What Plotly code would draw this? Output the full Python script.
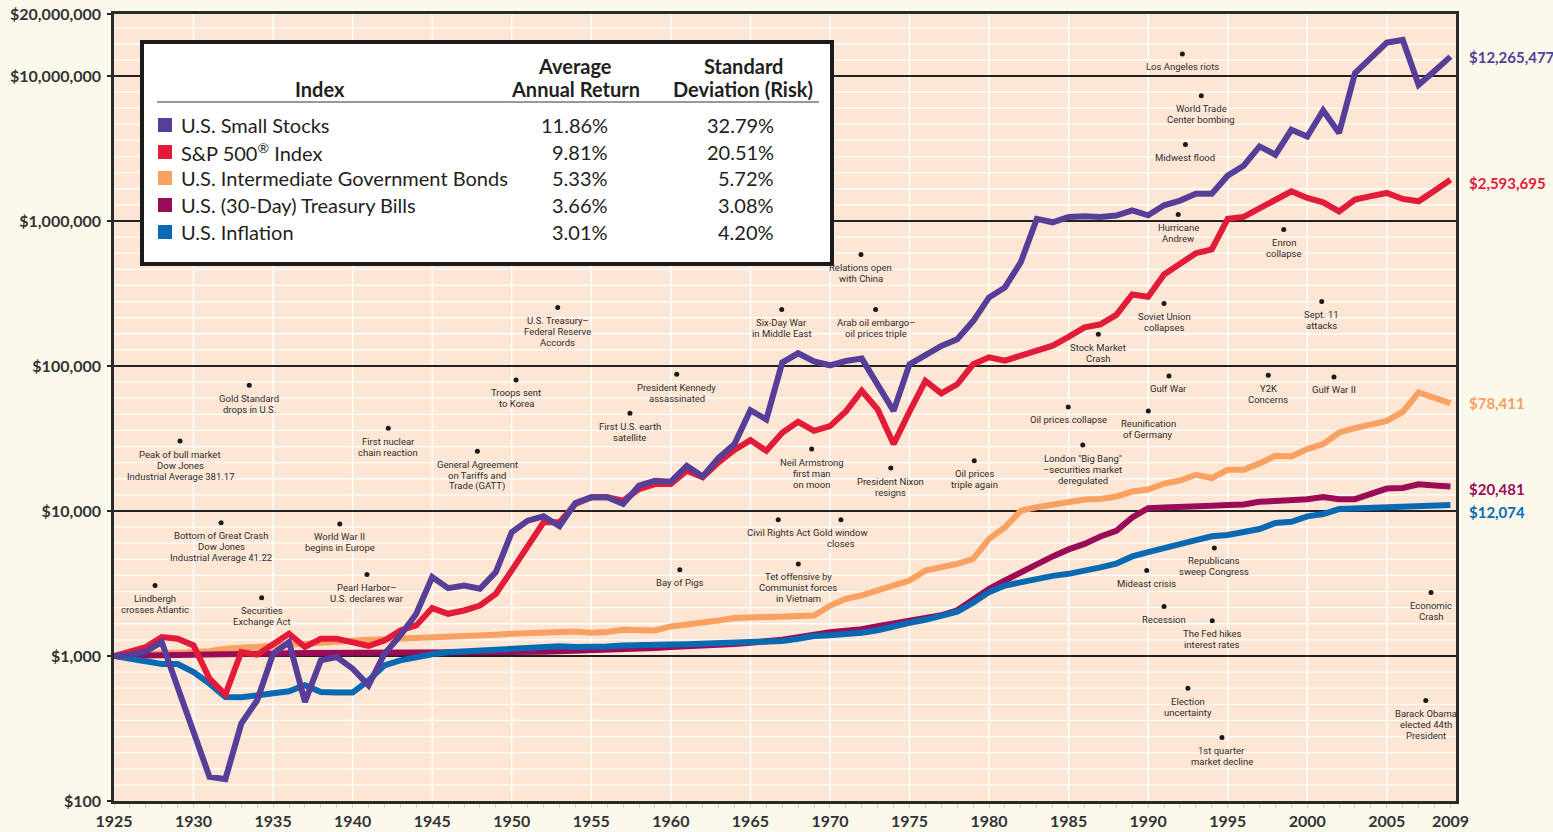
import numpy as np
import plotly.graph_objects as go

# ---------------- data ----------------
years = list(range(1925, 2010))

small_stocks = [
    1000, 1021, 1076, 1248, 608, 297, 147, 141.5, 342, 495,
    1037, 1248, 482.5, 933, 984, 818, 628, 1037, 1386, 1955,
    3498, 2938, 3062, 2906, 3786, 7136, 8574, 9194, 7847, 11352,
    12427, 12427, 11173, 14936, 16163, 15912, 20500, 17280, 23230, 28920,
    49560, 42770, 105540, 122330, 107400, 101110, 108250, 112440, 73310, 49010,
    102730, 120400, 137300, 152700, 204000, 297000, 348000, 521400, 1033900, 979500,
    1067000, 1077200, 1067000, 1089400, 1184700, 1094500, 1282600, 1381600, 1543800, 1543800,
    2053000, 2406000, 3267000, 2864000, 4256000, 3828000, 5779000, 4040000, 10454000, 13324000,
    16981000, 17720000, 8686000, 10841000, 13600000,
]

sp500 = [
    1000, 1065, 1153, 1351, 1315, 1183, 698, 541.6, 1065, 1021,
    1215, 1424, 1153, 1315, 1315, 1234, 1172, 1280, 1501, 1624,
    2140, 1955, 2060, 2229, 2685, 3895, 5770, 8360, 8360, 11173,
    12427, 12427, 11774, 14172, 15343, 15343, 18943, 17060, 21640, 26380,
    30810, 26000, 34580, 41170, 35690, 38460, 48630, 67500, 50130, 28920,
    48400, 78850, 64690, 74820, 102730, 114780, 108940, 118850, 128700, 138170,
    158870, 184600, 193640, 225100, 311500, 300300, 427700, 501200, 599500, 635800,
    1033900, 1067000, 1230800, 1404000, 1601000, 1442000, 1345000, 1166000, 1404000, 1484000,
    1561000, 1419000, 1367000, 1619000, 1927000,
]

gov_bonds = [
    1000, 1021, 1037, 1045, 1054, 1071, 1079, 1123, 1141, 1168,
    1196, 1215, 1225, 1254, 1274, 1284, 1295, 1305, 1315, 1336,
    1347, 1358, 1373, 1386, 1402, 1424, 1431, 1447, 1463, 1477,
    1447, 1463, 1517, 1510, 1501, 1599, 1643, 1714, 1758, 1826,
    1835, 1855, 1855, 1903, 1903, 2219, 2480, 2621, 2838, 3062,
    3314, 3882, 4099, 4318, 4674, 6417, 7723, 10048, 10605, 10998,
    11532, 12000, 12095, 12585, 13623, 14060, 15462, 16213, 17775, 16869,
    19245, 19245, 21298, 24028, 23800, 26720, 28920, 34800, 37265, 39700,
    41830, 48250, 65600, 60230, 55380,
]

t_bills = [
    1000, 1005, 1013, 1021, 1029, 1037, 1040, 1044, 1045, 1045,
    1045, 1045, 1047, 1047, 1047, 1047, 1047, 1049, 1049, 1050,
    1054, 1054, 1055, 1057, 1060, 1064, 1067, 1070, 1077, 1083,
    1091, 1101, 1112, 1119, 1135, 1153, 1162, 1174, 1191, 1209,
    1235, 1260, 1295, 1347, 1412, 1458, 1493, 1529, 1604, 1681,
    1749, 1819, 1909, 2065, 2441, 2906, 3315, 3785, 4250, 4862,
    5433, 5926, 6674, 7301, 9020, 10472, 10589, 10758, 10758, 10861,
    10980, 11103, 11566, 11691, 11745, 12063, 12503, 12063, 12063, 13140,
    14282, 14421, 15295, 15009, 14756,
]

inflation = [
    1000, 958, 909, 881, 881, 776, 645, 522, 519, 536,
    559, 571, 628, 565, 559, 559, 679, 862, 933, 984,
    1029, 1062, 1076, 1084, 1105, 1131, 1140, 1150, 1168, 1155,
    1155, 1162, 1183, 1196, 1196, 1200, 1206, 1215, 1221, 1229,
    1245, 1260, 1270, 1315, 1373, 1390, 1402, 1447, 1505, 1604,
    1694, 1777, 1879, 2018, 2328, 2757, 3062, 3230, 3351, 3570,
    3686, 3848, 4087, 4337, 4862, 5199, 5477, 5901, 6297, 6696,
    6836, 7247, 7514, 8259, 8429, 9189, 9531, 10310, 10423, 10423,
    10423, 10589, 10758, 10877, 10980,
]

series_names = [
    "U.S. Small Stocks",
    "S&P 500<sup>®</sup> Index",
    "U.S. Intermediate Government Bonds",
    "U.S. (30-Day) Treasury Bills",
    "U.S. Inflation",
]
avg_returns = ["11.86%", "9.81%", "5.33%", "3.66%", "3.01%"]
std_devs = ["32.79%", "20.51%", "5.72%", "3.08%", "4.20%"]
end_labels = ["$12,265,477", "$2,593,695", "$78,411", "$20,481", "$12,074"]
colors = ["#573E98", "#E31A38", "#F8A160", "#9B0C58", "#0A69B3"]

y_tick_values = [100, 1000, 10000, 100000, 1000000, 10000000, 10 ** 7.427]
y_tick_labels = ["$100", "$1,000", "$10,000", "$100,000", "$1,000,000",
                 "$10,000,000", "$20,000,000"]
x_tick_values = [1925, 1930, 1935, 1940, 1945, 1950, 1955, 1960, 1965, 1970,
                 1975, 1980, 1985, 1990, 1995, 2000, 2005, 2009]
x_tick_labels = [str(v) for v in x_tick_values]

# events: (label, year position, dollar level of the dot)
events = [
    ("Lindbergh\ncrosses Atlantic", 1927.58, 3062),
    ("Peak of bull market\nDow Jones\nIndustrial Average 381.17", 1929.15, 30330),
    ("Bottom of Great Crash\nDow Jones\nIndustrial Average 41.22", 1931.73, 8310),
    ("Gold Standard\ndrops in U.S.", 1933.50, 73680),
    ("Securities\nExchange Act", 1934.28, 2519),
    ("World War II\nbegins in Europe", 1939.19, 8138),
    ("Pearl Harbor–\nU.S. declares war", 1940.90, 3644),
    ("First nuclear\nchain reaction", 1942.24, 37250),
    ("General Agreement\non Tariffs and\nTrade (GATT)", 1947.84, 25870),
    ("Troops sent\nto Korea", 1950.27, 80100),
    ("U.S. Treasury–\nFederal Reserve\nAccords", 1952.89, 253500),
    ("First U.S. earth\nsatellite", 1957.43, 47250),
    ("President Kennedy\nassassinated", 1960.37, 87680),
    ("Bay of Pigs", 1960.56, 3926),
    ("Six-Day War\nin Middle East", 1966.97, 245600),
    ("Civil Rights Act", 1966.75, 8711),
    ("Neil Armstrong\nfirst man\non moon", 1968.85, 26710),
    ("Tet offensive by\nCommunist forces\nin Vietnam", 1968.01, 4317),
    ("Gold window\ncloses", 1970.69, 8711),
    ("Relations open\nwith China", 1971.95, 587200),
    ("Arab oil embargo–\noil prices triple", 1972.87, 245600),
    ("President Nixon\nresigns", 1973.82, 19770),
    ("Oil prices\ntriple again", 1979.07, 22200),
    ("Stock Market\nCrash", 1986.87, 165300),
    ("Oil prices collapse", 1984.98, 52210),
    ("London \"Big Bang\"\n–securities market\nderegulated", 1985.89, 28460),
    ("Hurricane\nAndrew", 1991.89, 1107000),
    ("Soviet Union\ncollapses", 1991.00, 270100),
    ("Gulf War", 1991.31, 85350),
    ("Reunification\nof Germany", 1990.01, 49010),
    ("Mideast crisis", 1989.91, 3883),
    ("Republicans\nsweep Congress", 1994.16, 5565),
    ("Recession", 1991.00, 2194),
    ("The Fed hikes\ninterest rates", 1994.03, 1750),
    ("Election\nuncertainty", 1992.50, 598.4),
    ("1st quarter\nmarket decline", 1994.64, 274),
    ("Economic\nCrash", 2007.78, 2739),
    ("Barack Obama\nelected 44th\nPresident", 2007.45, 492.6),
    ("Los Angeles riots", 1992.15, 14200000),
    ("World Trade\nCenter bombing", 1993.34, 7295000),
    ("Midwest flood", 1992.34, 3372000),
    ("Enron\ncollapse", 1998.52, 872700),
    ("Sept. 11\nattacks", 2000.91, 278800),
    ("Y2K\nConcerns", 1997.55, 86300),
    ("Gulf War II", 2001.68, 84010),
]

# ---------------- layout geometry ----------------
W, H = 1553, 832
L, R, T, B = 114, 97, 14, 31
PW, PH = W - L - R, H - T - B
X_RANGE = [1925, 1925 + PW / 15.91]
Y_RANGE = [2, 7.4274]


def px(x):
    return (x - L) / PW


def py(y):
    return (H - B - y) / PH


AXIS_FONT = dict(family="Lato, 'Open Sans', sans-serif", size=16, color="#333333", weight="bold")
EVENT_FONT = dict(family="Roboto, 'Liberation Sans', sans-serif", size=9.5, color="#2f2b2b")
TABLE_FONT = "Lato, 'Open Sans', sans-serif"

fig = go.Figure()

series = [small_stocks, sp500, gov_bonds, t_bills, inflation]
draw_order = [2, 3, 4, 1, 0]
for i in draw_order:
    fig.add_trace(go.Scatter(
        x=years, y=series[i], mode="lines",
        line=dict(color=colors[i], width=6),
        name=series_names[i], hoverinfo="skip", showlegend=False,
    ))

# event dots
fig.add_trace(go.Scatter(
    x=[e[1] for e in events], y=[e[2] for e in events], mode="markers",
    marker=dict(size=5, color="#1a1a1a"), hoverinfo="skip", showlegend=False,
    cliponaxis=False,
))

annotations = []
for label, ex, ev in events:
    for k, line in enumerate(label.split("\n")):
        annotations.append(dict(
            x=ex, y=np.log10(ev), xref="x", yref="y", text=line, showarrow=False,
            xanchor="center", yanchor="middle", yshift=-(13 + 11 * k),
            font=EVENT_FONT,
        ))

# end-of-line value labels
end_shift = [0, -3, 0, -3, -7]
for i in range(5):
    annotations.append(dict(
        x=px(1467), xref="paper", y=np.log10(series[i][-1]), yref="y",
        text=end_labels[i], showarrow=False, xanchor="left", yanchor="middle",
        yshift=end_shift[i],
        font=dict(family="Lato, sans-serif", size=15, color=colors[i], weight="bold"),
    ))

shapes = []
# fine white horizontal rules (9 per decade, evenly spaced)
for d in range(2, 8):
    for j in range(1, 9):
        lv = d + j / 9
        if lv >= Y_RANGE[1]:
            continue
        shapes.append(dict(type="line", xref="paper", x0=0, x1=1, yref="y",
                           y0=10 ** lv, y1=10 ** lv, layer="below",
                           line=dict(color="white", width=1.3)))
# white vertical rules every five years
for yr in range(1930, 2010, 5):
    shapes.append(dict(type="line", xref="x", x0=yr, x1=yr, yref="paper", y0=0, y1=1,
                       layer="below", line=dict(color="white", width=1.5)))

# ---------------- table / legend box ----------------
shapes.append(dict(type="rect", xref="paper", yref="paper",
                   x0=px(142), x1=px(832), y0=py(264), y1=py(42),
                   fillcolor="white", line=dict(color="#1b1b1b", width=4), layer="above"))
shapes.append(dict(type="line", xref="paper", yref="paper",
                   x0=px(157), x1=px(819), y0=py(102), y1=py(102),
                   line=dict(color="#333333", width=1.2), layer="above"))

header_font = dict(family=TABLE_FONT, size=20, color="#231f20", weight="bold")
for text, cx, cy in [("Index", 320, 89), ("Average", 575, 66), ("Annual Return", 575, 89),
                     ("Standard", 743, 66), ("Deviation (Risk)", 743, 89)]:
    annotations.append(dict(x=px(cx), y=py(cy), xref="paper", yref="paper", text=text,
                            showarrow=False, xanchor="center", yanchor="middle",
                            font=header_font))

row_y = [125, 152, 178, 205, 232]
row_font = dict(family=TABLE_FONT, size=20, color="#231f20")
for i in range(5):
    ry = row_y[i]
    shapes.append(dict(type="rect", xref="paper", yref="paper",
                       x0=px(158), x1=px(172), y0=py(ry + 7), y1=py(ry - 7),
                       fillcolor=colors[i], line=dict(width=0), layer="above"))
    annotations.append(dict(x=px(179), y=py(ry), xref="paper", yref="paper",
                            text=series_names[i], showarrow=False, xanchor="left",
                            yanchor="middle", font=row_font))
    annotations.append(dict(x=px(610), y=py(ry), xref="paper", yref="paper",
                            text=avg_returns[i], showarrow=False, xanchor="right",
                            yanchor="middle", font=row_font))
    annotations.append(dict(x=px(776), y=py(ry), xref="paper", yref="paper",
                            text=std_devs[i], showarrow=False, xanchor="right",
                            yanchor="middle", font=row_font))

fig.update_layout(
    width=W, height=H,
    margin=dict(l=L, r=R, t=T, b=B, pad=0, autoexpand=False),
    paper_bgcolor="#FBF8EC",
    plot_bgcolor="#FDE7D4",
    showlegend=False,
    shapes=shapes,
    annotations=annotations,
    xaxis=dict(
        range=X_RANGE, tickmode="array", tickvals=x_tick_values, ticktext=x_tick_labels,
        showgrid=False, zeroline=False, automargin=False,
        showline=True, mirror=True, linecolor="#2a2a2a", linewidth=2.5,
        ticks="outside", ticklen=4, tickcolor="#ddd3c3", tickwidth=1,
        tickfont=AXIS_FONT, ticklabelstandoff=0,
        minor=dict(tickmode="linear", tick0=1925, dtick=1, ticks="outside",
                   ticklen=4, tickcolor="#ddd3c3", showgrid=False),
    ),
    yaxis=dict(
        type="log", range=Y_RANGE, tickmode="array", tickvals=y_tick_values,
        ticktext=y_tick_labels, automargin=False,
        showgrid=True, gridcolor="#222222", gridwidth=2, zeroline=False,
        showline=True, mirror=True, linecolor="#2a2a2a", linewidth=2.5,
        ticks="outside", ticklen=4, tickcolor="#222222", tickwidth=2,
        tickfont=AXIS_FONT, ticklabelstandoff=3,
    ),
)

fig.write_html("out.html")
